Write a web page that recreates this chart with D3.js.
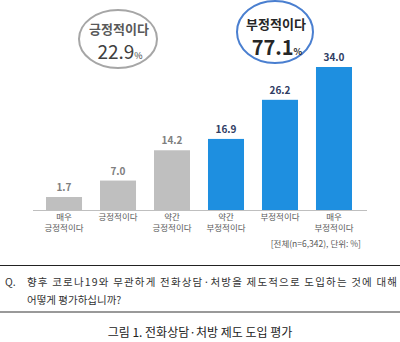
<!DOCTYPE html>
<html><head><meta charset="utf-8">
<script src="https://cdn.jsdelivr.net/npm/d3@7"></script>
<style>body{margin:0;background:#fff}svg{display:block}</style>
</head><body>
<script>
const categories = [["매우","긍정적이다"],["긍정적이다"],["약간","긍정적이다"],["약간","부정적이다"],["부정적이다"],["매우","부정적이다"]];
const values = [1.7, 7.0, 14.2, 16.9, 26.2, 34.0];
const groups = ["pos","pos","pos","neg","neg","neg"];
const summaryLabels = ["긍정적이다","부정적이다"];
const summaryValues = ["22.9","77.1"];
const note = "[전체(n=6,342), 단위: %]";
const question = ["향후 코로나19와 무관하게 전화상담·처방을 제도적으로 도입하는 것에 대해","어떻게 평가하십니까?"];
const caption = "그림 1. 전화상담·처방 제도 도입 평가";

const W=400,H=342;
const font="'Noto Sans CJK KR','Noto Sans',sans-serif";
const svg=d3.select("body").append("svg").attr("width",W).attr("height",H);
const idx=d3.range(values.length);
const x=d3.scaleBand().domain(idx).range([37,361]).paddingInner(0.333).paddingOuter(0.1667);
const y=d3.scaleLinear().domain([0,34]).range([210,67]);
const minH=13;
const barTop=i=>Math.min(y(values[i]),y(0)-minH);
const colors={pos:"#bfbfbf",neg:"#1e8fe0"};
const lblColors={pos:"#7f7f7f",neg:"#2f3d63"};

svg.selectAll("rect.bar").data(idx).join("rect").attr("class","bar")
 .attr("x",i=>x(i)).attr("width",x.bandwidth())
 .attr("y",barTop).attr("height",i=>y(0)-barTop(i))
 .attr("fill",i=>colors[groups[i]]);

svg.append("line").attr("x1",33).attr("x2",367).attr("y1",210.5).attr("y2",210.5).attr("stroke","#bfbfbf").attr("stroke-width",1);

svg.selectAll("text.val").data(idx).join("text").attr("class","val")
 .attr("x",i=>x(i)+x.bandwidth()/2).attr("y",i=>barTop(i)-6)
 .attr("text-anchor","middle").attr("font-family",font).attr("font-size",10).attr("font-weight","bold")
 .attr("fill",i=>lblColors[groups[i]]).text(i=>values[i].toFixed(1));

const cat=svg.selectAll("text.cat").data(idx).join("text").attr("class","cat")
 .attr("text-anchor","middle").attr("font-family",font).attr("font-size",8.5).attr("fill","#595959");
cat.each(function(i){
  const t=d3.select(this);
  categories[i].forEach((s,k)=>t.append("tspan").attr("x",x(i)+x.bandwidth()/2).attr("y",220+k*11).text(s));
});

svg.append("text").attr("x",361).attr("y",247).attr("text-anchor","end").attr("font-family",font)
 .attr("font-size",8.5).attr("fill","#595959").text(note);

// summary ellipses
const ells=[{cx:118,cy:39,rx:39,ry:29,stroke:"#a6a6a6",tc:"#595959",vc:"#404040",vw:"normal",ly:-5,vy:20,vs:19},
            {cx:275,cy:32,rx:38,ry:31,stroke:"#4a7fd0",tc:"#262626",vc:"#262626",vw:"bold",ly:-3,vy:23,vs:20}];
ells.forEach((e,k)=>{
  svg.append("ellipse").attr("cx",e.cx).attr("cy",e.cy).attr("rx",e.rx).attr("ry",e.ry)
   .attr("fill","#fff").attr("stroke",e.stroke).attr("stroke-width",2);
  svg.append("text").attr("x",e.cx+1).attr("y",e.cy+e.ly).attr("text-anchor","middle")
   .attr("font-family",font).attr("font-size",13).attr("font-weight","bold").attr("fill",e.tc).text(summaryLabels[k]);
  const t=svg.append("text").attr("x",e.cx+2).attr("y",e.cy+e.vy).attr("text-anchor","middle")
   .attr("font-family",font).attr("fill",e.vc);
  t.append("tspan").attr("font-size",e.vs).attr("font-weight",e.vw).text(summaryValues[k]);
  t.append("tspan").attr("font-size",9).attr("font-weight",e.vw).text("%");
});

// question box
svg.append("line").attr("x1",0).attr("x2",W).attr("y1",265.5).attr("y2",265.5).attr("stroke","#222").attr("stroke-width",1);
svg.append("text").attr("x",5).attr("y",286).attr("font-family",font).attr("font-size",10.5).attr("fill","#333").text("Q.");
svg.append("text").attr("x",27).attr("y",286).attr("font-family",font).attr("font-size",10.5).attr("fill","#333")
 .attr("textLength",370).attr("lengthAdjust","spacing").text(question[0]);
svg.append("text").attr("x",27).attr("y",304).attr("font-family",font).attr("font-size",10.5).attr("fill","#333").text(question[1]);
svg.append("line").attr("x1",0).attr("x2",W).attr("y1",312).attr("y2",312).attr("stroke","#999").attr("stroke-width",2);
svg.append("text").attr("x",200).attr("y",337).attr("text-anchor","middle").attr("font-family",font).attr("font-size",12).attr("fill","#222").text(caption);
</script>
</body></html>
